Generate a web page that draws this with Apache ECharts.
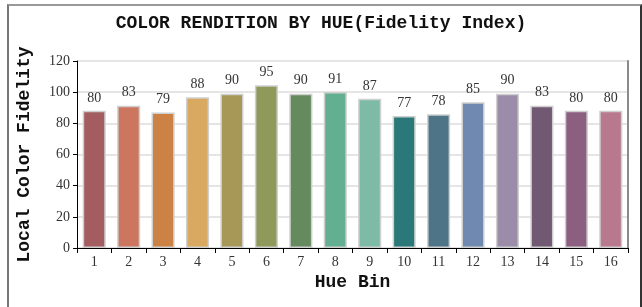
<!DOCTYPE html>
<html><head><meta charset="utf-8">
<script src="https://cdn.jsdelivr.net/npm/echarts@6/dist/echarts.min.js"></script>
<style>
html,body{margin:0;padding:0;background:#fff;}
#c{position:absolute;left:0;top:0;width:642px;height:307px;}
#frame{position:absolute;left:7px;top:4px;width:631px;height:320px;border-top:2px solid #999;border-left:2px solid #777;border-right:2px solid #333;pointer-events:none;}
</style></head>
<body>
<div id="c"></div>
<div id="frame"></div>
<script>
const categories = ['1','2','3','4','5','6','7','8','9','10','11','12','13','14','15','16'];
const fidelityLabels = [80,83,79,88,90,95,90,91,87,77,78,85,90,83,80,80];
const barHeights = [88,91.3,86.9,96.8,99,104.5,99,100.1,95.7,84.7,85.8,93.5,99,91.3,88,88];
const barColors = ['#a35c5f','#cc7660','#cc8244','#d9a961','#a89858','#8f9a5a','#648a5e','#62b091','#7dbba6','#2a7878','#4e7488','#6f89b0','#9b8daa','#715873','#8c5f80','#b8798e'];
const yTicks = {min:0,max:120,interval:20};

const chart = echarts.init(document.getElementById('c'));
const mono = '"Liberation Mono","DejaVu Sans Mono",monospace';
const serif = '"Liberation Serif","DejaVu Serif",serif';
chart.setOption({
  animation:false,
  title:{text:'COLOR RENDITION BY HUE(Fidelity Index)',left:'center',top:9,
    textStyle:{fontFamily:mono,fontWeight:'bold',fontSize:18,color:'#111'}},
  grid:{left:77,right:14,top:61,bottom:59},
  xAxis:{type:'category',data:categories,
    name:'Hue Bin',nameLocation:'middle',nameGap:25,
    nameTextStyle:{fontFamily:mono,fontWeight:'bold',fontSize:18,color:'#111'},
    axisLine:{lineStyle:{color:'#000',width:1}},
    axisTick:{show:true,alignWithLabel:false,length:5,lineStyle:{color:'#000'}},
    axisLabel:{fontFamily:serif,fontSize:14,color:'#333',margin:7}},
  yAxis:[{type:'value',min:yTicks.min,max:yTicks.max,interval:yTicks.interval,
    name:'Local Color Fidelity',nameLocation:'middle',nameGap:44,
    nameTextStyle:{fontFamily:mono,fontWeight:'bold',fontSize:18,color:'#111'},
    axisLine:{show:true,lineStyle:{color:'#000',width:1}},
    axisTick:{show:true,length:4,lineStyle:{color:'#000'}},
    axisLabel:{fontFamily:serif,fontSize:14,color:'#333',margin:7},
    splitLine:{show:true,lineStyle:{color:'#dcdcdc',width:1.5}}},
   {type:'value',position:'right',min:yTicks.min,max:yTicks.max,interval:yTicks.interval,
    axisLine:{show:true,lineStyle:{color:'#8a8a8a',width:2}},
    axisTick:{show:false},axisLabel:{show:false},splitLine:{show:false}}],
  series:[{type:'bar',barCategoryGap:'33%',
    data:barHeights.map((v,i)=>({value:v,itemStyle:{color:barColors[i]}})),
    itemStyle:{borderColor:'#cfcfcf',borderWidth:1.5},
    label:{show:true,position:'top',distance:6,fontFamily:serif,fontSize:14,color:'#333',
      formatter:p=>String(fidelityLabels[p.dataIndex])}}]
});
</script>
</body></html>
